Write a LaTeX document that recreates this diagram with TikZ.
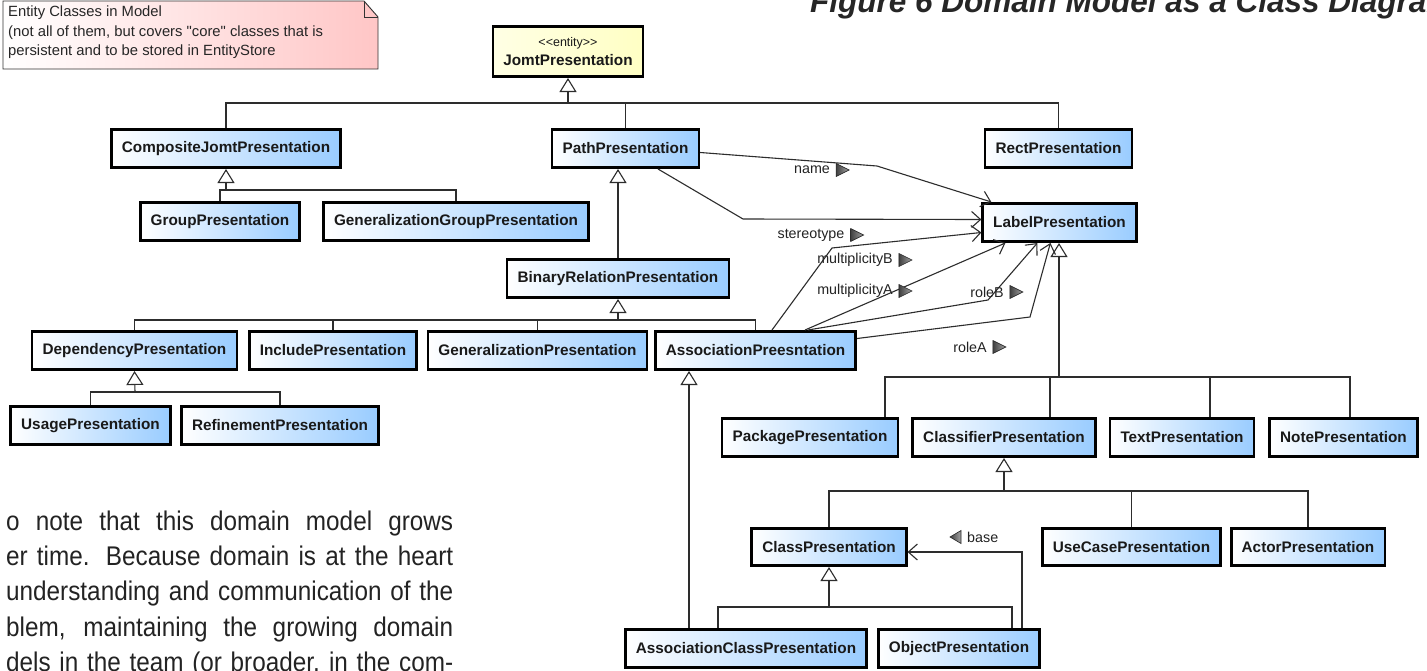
\documentclass[tikz,border=0pt]{standalone}
\usepackage{fontspec}
\setmainfont{Liberation Sans}
\usetikzlibrary{arrows.meta,calc}
\definecolor{clsblue}{RGB}{153,204,255}
\definecolor{notepink}{RGB}{255,198,198}
\definecolor{entyellow}{RGB}{255,255,196}
\definecolor{edgegray}{RGB}{45,45,45}
\definecolor{txtgray}{RGB}{35,35,35}

% class box: name, centre x, top, bottom, caption (width follows the caption)
\newcommand\umlbox[5]{%
  \node[cls, minimum height={#4-#3-2.6}] (#1) at (#2,{(#3+#4)/2}) {#5};}
% small filled direction marker beside a role name
\newcommand\dirright[1]{%
  \path[draw=black!85, line width=0.6pt, left color=black!75, right color=black!35]
    ($(#1.east)+(6,-6.5)$) -- ++(13,6.5) -- ++(-13,6.5) -- cycle;}
\newcommand\dirleft[1]{%
  \path[draw=black!85, line width=0.6pt, left color=black!75, right color=black!35]
    ($(#1.west)+(-6,-6.5)$) -- ++(-11,6.5) -- ++(11,6.5) -- cycle;}
% one justified line of the running text, set slightly condensed
\newcommand\bodyline[1]{\scalebox{0.9}[1]{\makebox[496.7pt][s]{#1}}}

\begin{document}
\begin{tikzpicture}[x=1pt,y=-1pt,
  cls/.style={draw=black, line width=2.6pt, left color=white, right color=clsblue,
    font=\fontsize{15.3}{18}\selectfont\bfseries, text=black!90,
    inner xsep=10.5pt, inner ysep=0pt},
  edge/.style={draw=edgegray, line width=1.1pt},
  gen/.style={edge, -{Triangle[open, length=14pt, width=17pt, line width=1.1pt, fill=white]}},
  nav/.style={edge, -{Straight Barb[length=9pt, width=16pt, line width=1.1pt]}},
  role/.style={font=\fontsize{14.3}{16}\selectfont, text=txtgray, inner sep=0pt},
  body/.style={font=\fontsize{27}{30}\selectfont, text=txtgray, inner sep=0pt, anchor=base west},
]
\useasboundingbox (0,0) rectangle (1427,670);
\fill[white] (0,0) rectangle (1427,670);

% ---- page title (runs off the top and right of the page)
\node[anchor=base west, inner sep=0pt, text=black!85,
  font=\fontsize{31.5}{32}\selectfont\bfseries\itshape] (title) at (810,12)
  {Figure 6 Domain Model as a Class Diagram};

% ---- comment note with folded corner
\path[draw=black!80, line width=0.9pt, left color=white, right color=notepink]
  (3,1) -- (364,1) -- (378,17) -- (378,69) -- (3,69) -- cycle;
\draw[black!80, line width=0.9pt] (364,1) -- (364,17) -- (378,17);
\node[anchor=north west, inner sep=0pt, align=left, text=black!85,
  font=\fontsize{14.8}{19.5}\selectfont] (notetext) at (8,6)
  {Entity Classes in Model\\(not all of them, but covers \textquotedbl core\textquotedbl{} classes that is\\persistent and to be stored in EntityStore};

% ---- classes
\node[cls, left color=entyellow!45, right color=entyellow, align=center,
  minimum height=50.4] (jomt) at (568,51.5)
  {{\fontsize{12.5}{15}\selectfont\mdseries <{}<entity>{}>}\\[1pt]JomtPresentation};
\umlbox{comp}{226}{128}{169}{CompositeJomtPresentation}
\umlbox{path}{625.5}{128}{169}{PathPresentation}
\umlbox{rect}{1058.5}{128}{169}{RectPresentation}
\umlbox{group}{220}{201}{242}{GroupPresentation}
\umlbox{gengroup}{456}{201}{242}{GeneralizationGroupPresentation}
\umlbox{label}{1059.5}{202}{243}{LabelPresentation}
\umlbox{binrel}{618}{258}{299}{BinaryRelationPresentation}
\umlbox{dep}{134.5}{330}{371}{DependencyPresentation}
\umlbox{incl}{333}{330}{371}{IncludePresentation}
\umlbox{genp}{537.5}{330}{371}{GeneralizationPresentation}
\umlbox{assoc}{755.5}{330}{371}{AssociationPreesntation}
\umlbox{usage}{90.5}{405}{446}{UsagePresentation}
\umlbox{refine}{280}{405}{446}{RefinementPresentation}
\umlbox{pkg}{810}{417}{458}{PackagePresentation}
\umlbox{classifier}{1004}{417}{458}{ClassifierPresentation}
\umlbox{textp}{1182}{417}{458}{TextPresentation}
\umlbox{notep}{1343.5}{417}{458}{NotePresentation}
\umlbox{classp}{829}{527}{567}{ClassPresentation}
\umlbox{usecase}{1131.5}{527}{567}{UseCasePresentation}
\umlbox{actor}{1308}{527}{567}{ActorPresentation}
\umlbox{assocclass}{746}{628}{669}{AssociationClassPresentation}
\umlbox{object}{959}{628}{669}{ObjectPresentation}

% ---- generalization trees
\coordinate (jbar) at (568,103);
\draw[gen] (jbar) -- (jomt.south);
\draw[edge] (comp.north) |- (rect.north |- jbar) -- (rect.north);
\draw[edge] (path.north) -- (path.north |- jbar);

\coordinate (cbar) at (226,190);
\draw[gen] (cbar) -- (comp.south);
\draw[edge] (group.north) |- (gengroup.north |- cbar) -- (gengroup.north);

\draw[gen] (binrel.north) -- (binrel.north |- path.south);

\coordinate (bbar) at (618,320);
\draw[gen] (bbar) -- (binrel.south);
\draw[edge] (dep.north) |- (assoc.north |- bbar) -- (assoc.north);
\draw[edge] (incl.north) -- (incl.north |- bbar);
\draw[edge] (genp.north) -- (genp.north |- bbar);

\coordinate (dbar) at (135,392);
\draw[gen] (dbar) -- (dep.south);
\draw[edge] (usage.north) |- (refine.north |- dbar) -- (refine.north);

\coordinate (acx) at (689,0);
\draw[gen] (assocclass.north -| acx) -- (assoc.south -| acx);

\coordinate (lbar) at (1059,377);
\coordinate (k1) at (885,0);
\coordinate (k2) at (1050,0);
\coordinate (k3) at (1210,0);
\coordinate (k4) at (1350,0);
\draw[gen] (lbar) -- (label.south -| lbar);
\draw[edge] (pkg.north -| k1) |- (lbar -| k4) -- (notep.north -| k4);
\draw[edge] (lbar -| k2) -- (classifier.north -| k2);
\draw[edge] (lbar -| k3) -- (textp.north -| k3);

\coordinate (kbar) at (1004,491);
\draw[gen] (kbar) -- (classifier.south);
\draw[edge] (classp.north) |- (actor.north |- kbar) -- (actor.north);
\draw[edge] (usecase.north) -- (usecase.north |- kbar);

\coordinate (pbar) at (829,607);
\coordinate (e1) at (718,0);
\coordinate (e2) at (1012,0);
\draw[gen] (pbar) -- (classp.south);
\draw[edge] (assocclass.north -| e1) |- (pbar -| e2) -- (object.north -| e2);

% ---- navigable associations
\coordinate (bx) at (1022,552);
\draw[nav] (object.north -| bx) -- (bx) -- (classp.east |- bx);
\node[role, anchor=west] (lbase) at (967,537) {base};
\dirleft{lbase}

\coordinate (nb) at (877,166);
\draw[nav] ($(path.east)+(0,4)$) -- (nb) -- ($(label.north west)+(10,0)$);
\node[role] (lname) at (812,170) {name};
\dirright{lname}

\coordinate (sx) at (658,0);
\coordinate (sb) at (743,219);
\draw[nav] (path.south -| sx) -- (sb) -- ($(label.west)+(0,-3)$);
\node[role] (lster) at (811,235) {stereotype};
\dirright{lster}

\coordinate (mbx) at (772,0);
\coordinate (mbb) at (832,248);
\draw[nav] (assoc.north -| mbx) -- (mbb) -- ($(label.west)+(0,10)$);
\node[role] (lmb) at (855,260) {multiplicityB};
\dirright{lmb}

\coordinate (max) at (805,0);
\draw[nav] (assoc.north -| max) -- ($(label.south west)+(24,0)$);
\node[role] (lma) at (855,291) {multiplicityA};
\dirright{lma}

\coordinate (rbx) at (808,0);
\coordinate (rbb) at (988,300);
\draw[nav] (assoc.north -| rbx) -- (rbb) -- ($(label.south west)+(56,0)$);
\node[role] (lrb) at (987,292) {roleB};
\dirright{lrb}

\coordinate (rab) at (1030,317);
\draw[nav] ($(assoc.east)+(0,-12)$) -- (rab) -- ($(label.south west)+(69,0)$);
\node[role] (lra) at (970,347) {roleA};
\dirright{lra}

% ---- running text of the page beside the figure
\node[body] (p1) at (6,530) {\bodyline{o note that this domain model grows}};
\node[body] (p2) at (6,565) {\bodyline{er time. Because domain is at the heart}};
\node[body] (p3) at (6,600.5) {\bodyline{understanding and communication of the}};
\node[body] (p4) at (6,636) {\bodyline{blem, maintaining the growing domain}};
\node[body] (p5) at (6,671) {\bodyline{dels in the team (or broader, in the com-}};
\end{tikzpicture}
\end{document}
